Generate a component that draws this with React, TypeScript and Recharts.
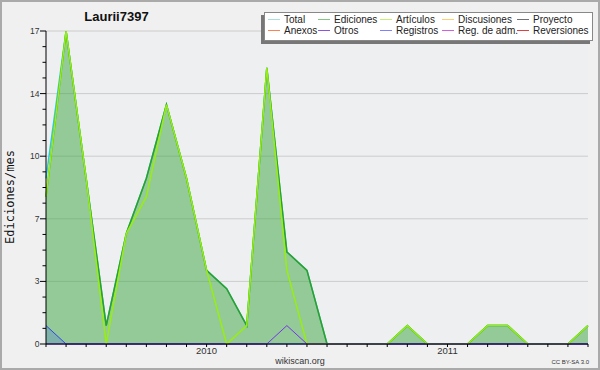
import { ComposedChart, Area, Line, XAxis, YAxis, CartesianGrid } from "recharts";

document.body.style.margin = "0";

const MONTHS = [
  "2009-05", "2009-06", "2009-07", "2009-08", "2009-09", "2009-10", "2009-11", "2009-12",
  "2010-01", "2010-02", "2010-03", "2010-04", "2010-05", "2010-06", "2010-07", "2010-08",
  "2010-09", "2010-10", "2010-11", "2010-12",
  "2011-01", "2011-02", "2011-03", "2011-04", "2011-05", "2011-06", "2011-07", "2011-08",
];

const TOTAL = [9, 17, 9, 1, 6, 9, 13, 9, 4, 3, 1, 15, 5, 4, 0, 0, 0, 0, 1, 0, 0, 0, 1, 1, 0, 0, 0, 1];
const EDICIONES = [8, 17, 9, 1, 6, 9, 13, 9, 4, 3, 1, 15, 5, 4, 0, 0, 0, 0, 1, 0, 0, 0, 1, 1, 0, 0, 0, 1];
const ARTICULOS = [8, 17, 9, 0, 6, 8, 13, 9, 4, 0, 1, 15, 4, 0, 0, 0, 0, 0, 1, 0, 0, 0, 1, 1, 0, 0, 0, 1];
const OTROS = [0, 0, 0, 0, 0, 0, 0, 0, 0, 0, 0, 0, 1, 0, 0, 0, 0, 0, 0, 0, 0, 0, 0, 0, 0, 0, 0, 0];
const REGISTROS = [1, 0, 0, 0, 0, 0, 0, 0, 0, 0, 0, 0, 0, 0, 0, 0, 0, 0, 0, 0, 0, 0, 0, 0, 0, 0, 0, 0];

const YEAR_LABELS: Record<string, string> = { "2010-01": "2010", "2011-01": "2011" };

// major grid values (max/5 steps) and their rounded labels
const Y_MAJOR = [0, 3.4, 6.8, 10.2, 13.6, 17];
const Y_LABELS = ["0", "3", "7", "10", "14", "17"];
const Y_TICKS = Y_MAJOR.slice(0, -1)
  .flatMap((v, i) => [0, 1, 2, 3].map((k) => v + ((Y_MAJOR[i + 1] - v) * k) / 4))
  .concat([17]);

const LEGEND = [
  { name: "Total", color: "#a8e0e0" },
  { name: "Ediciones", color: "#80c880" },
  { name: "Artículos", color: "#c8f070" },
  { name: "Discusiones", color: "#ffd070" },
  { name: "Proyecto", color: "#707070" },
  { name: "Anexos", color: "#ff8050" },
  { name: "Otros", color: "#9050e0" },
  { name: "Registros", color: "#8080ff" },
  { name: "Reg. de adm.", color: "#d060e0" },
  { name: "Reversiones", color: "#e04040" },
];
const LEGEND_COLS = [4, 54, 116, 178, 253];

const data = MONTHS.map((month, i) => ({
  month,
  total: TOTAL[i],
  ediciones: EDICIONES[i],
  articulos: ARTICULOS[i],
  otros: OTROS[i],
  registros: REGISTROS[i],
}));

const FONT = "'Liberation Sans', Arial, sans-serif";

function YTick(props: any) {
  const { x, y, payload } = props;
  const k = Y_MAJOR.findIndex((m) => Math.abs(m - payload.value) < 1e-6);
  const major = k >= 0;
  return (
    <g>
      <line x1={x - (major ? 6 : 3.5)} x2={x} y1={y} y2={y} stroke="#000" />
      {major && (
        <text x={x - 6.5} y={y} dy="0.35em" textAnchor="end" fontSize={8.5} fontFamily={FONT} fill="#333">
          {Y_LABELS[k]}
        </text>
      )}
    </g>
  );
}

export default function App() {
  return (
    <div style={{ position: "relative", width: 600, height: 370, background: "#f0f0f0" }}>
      <ComposedChart width={600} height={370} data={data} margin={{ top: 31, right: 12, bottom: 0, left: 0 }}>
        <CartesianGrid vertical={false} horizontalValues={Y_MAJOR} stroke="#cccccc" fill="#eeeff1" />
        {/* total as an unfilled area so it sits below the ediciones layer */}
        <Area
          dataKey="total"
          stroke="#33c8d8"
          strokeWidth={1.5}
          fill="none"
          dot={false}
          isAnimationActive={false}
        />
        <Area
          dataKey="ediciones"
          stroke="#2ca02c"
          strokeWidth={1.5}
          fill="#37a63e"
          fillOpacity={0.5}
          dot={false}
          isAnimationActive={false}
        />
        <Line dataKey="articulos" stroke="#99ee11" strokeWidth={1.5} dot={false} isAnimationActive={false} />
        <Line dataKey="otros" stroke="#7733ee" strokeWidth={1} dot={false} isAnimationActive={false} />
        <Area
          dataKey="registros"
          stroke="#3344ee"
          strokeWidth={1}
          fill="#3355ff"
          fillOpacity={0.2}
          dot={false}
          isAnimationActive={false}
        />
        <XAxis
          dataKey="month"
          interval={0}
          height={26}
          tickSize={3}
          tickMargin={0}
          axisLine={{ stroke: "#000" }}
          tickLine={{ stroke: "#000" }}
          tick={{ fill: "#333", fontSize: 9.5, fontFamily: FONT }}
          tickFormatter={(m: string) => YEAR_LABELS[m] ?? ""}
        />
        <YAxis
          domain={[0, 17]}
          ticks={Y_TICKS}
          interval={0}
          width={46}
          tickSize={0}
          tickMargin={0}
          tickLine={false}
          axisLine={{ stroke: "#000" }}
          tick={<YTick />}
        />
      </ComposedChart>

      <svg width={600} height={370} style={{ position: "absolute", left: 0, top: 0, pointerEvents: "none" }}>
        <text x={116.5} y={21} textAnchor="middle" fontSize={13} fontWeight="bold" fontFamily={FONT} fill="#111">
          Laurii7397
        </text>
        <text
          x={14}
          y={197}
          transform="rotate(-90 14 197)"
          textAnchor="middle"
          fontSize={12}
          fontFamily="'DejaVu Sans Mono', monospace"
          fill="#111"
        >
          Ediciones/mes
        </text>
        <text x={300} y={364} textAnchor="middle" fontSize={9} fontFamily={FONT} fill="#333">
          wikiscan.org
        </text>
        <text x={589} y={364} textAnchor="end" fontSize={6} fontFamily={FONT} fill="#333">
          CC BY-SA 3.0
        </text>
      </svg>

      <div
        style={{
          position: "absolute",
          left: 264,
          top: 12,
          width: 329,
          height: 29,
          boxSizing: "border-box",
          background: "#fff",
          border: "1px solid #888",
          boxShadow: "-3px 3px 0 #777",
          fontFamily: FONT,
          fontSize: 10,
          color: "#222",
        }}
      >
        {LEGEND.map((item, i) => (
          <div
            key={item.name}
            style={{
              position: "absolute",
              left: LEGEND_COLS[i % 5] - 1,
              top: i < 5 ? 1 : 11.5,
              height: 11,
              lineHeight: "11px",
              display: "flex",
              alignItems: "center",
              whiteSpace: "nowrap",
            }}
          >
            <span style={{ width: 12, height: 1, background: item.color, marginRight: 4 }} />
            {item.name}
          </div>
        ))}
      </div>

      <div
        style={{
          position: "absolute",
          left: 0,
          top: 0,
          width: 600,
          height: 370,
          boxSizing: "border-box",
          border: "2px solid #aaa",
          pointerEvents: "none",
        }}
      />
    </div>
  );
}
